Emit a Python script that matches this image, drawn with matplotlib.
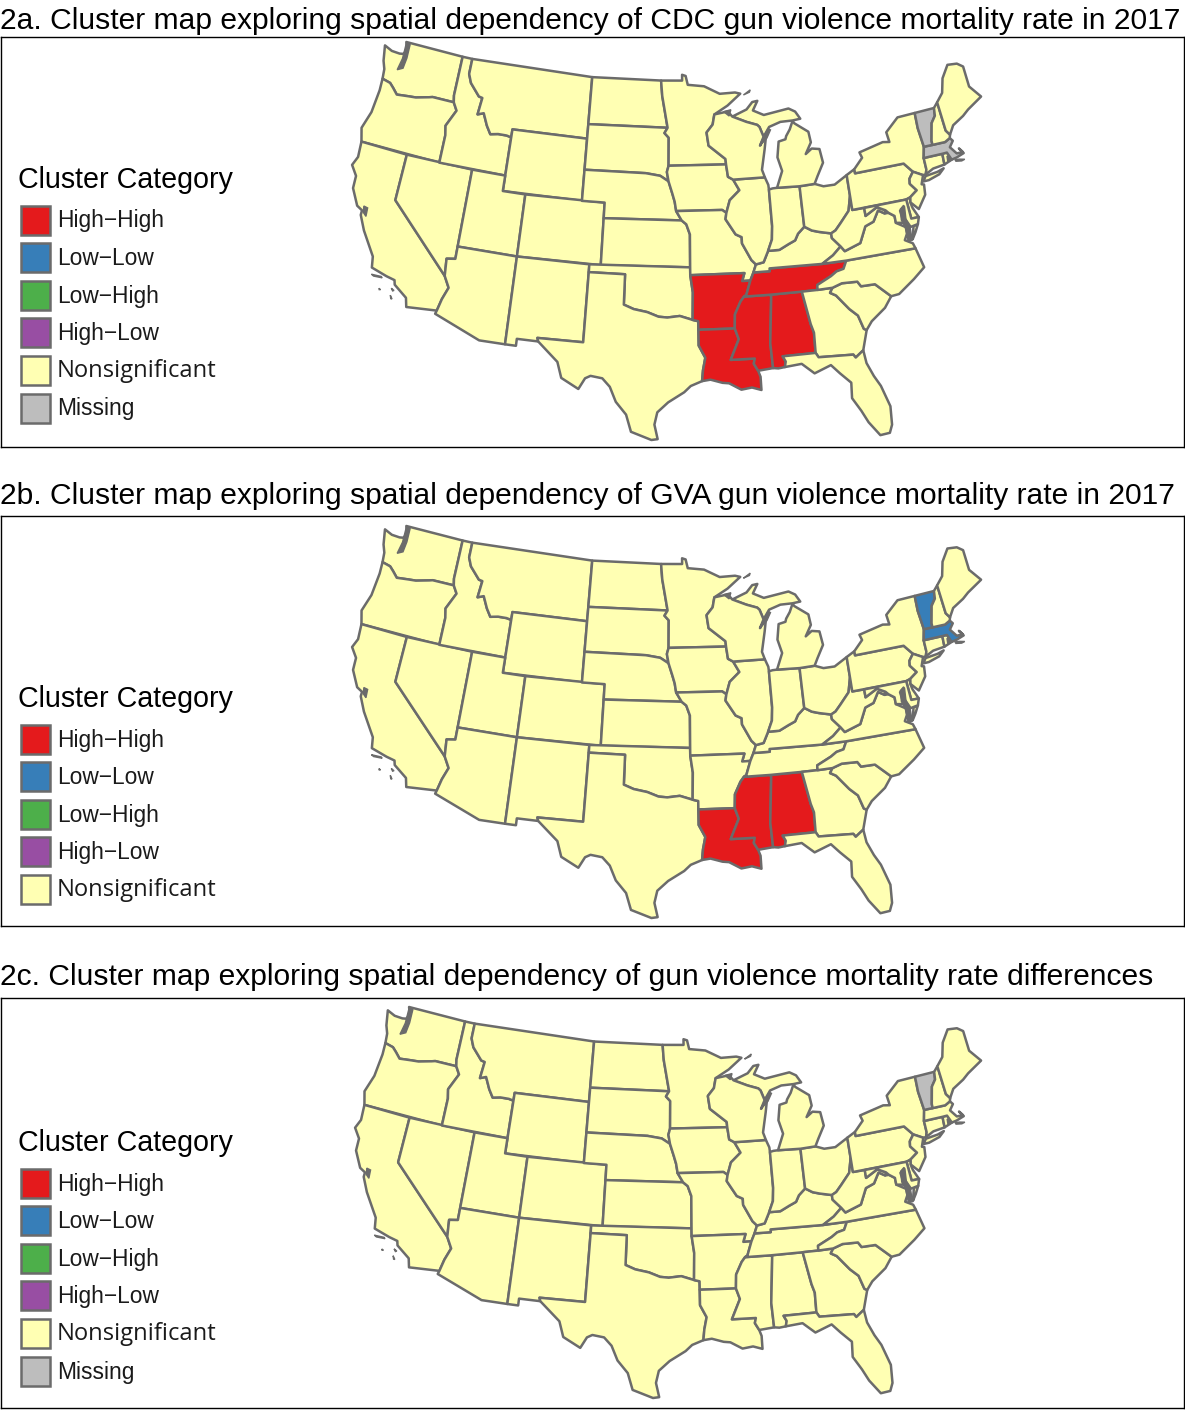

# Cluster maps of gun violence mortality, three panels of the lower 48 states
import numpy as np
import matplotlib
matplotlib.use("Agg")
import matplotlib.pyplot as plt
from matplotlib.patches import Polygon, Rectangle

W, H = 1185, 1412

# state outlines, lon/lat
WA = [(-124.7,48.38),(-123.9,48.17),(-123.1,48.15),(-122.75,48.2),(-122.5,48.5),(-122.78,49.0),(-117.03,49.0),(-117.04,46.42),(-116.92,45.99),(-118.98,46.0),(-119.3,45.93),(-120.5,45.7),(-121.2,45.65),(-122.3,45.55),(-122.8,45.9),(-123.2,46.15),(-124.0,46.27),(-124.1,46.9),(-124.4,47.4)]
OR = [(-124.0,46.27),(-123.2,46.15),(-122.8,45.9),(-122.3,45.55),(-121.2,45.65),(-120.5,45.7),(-119.3,45.93),(-118.98,46.0),(-116.92,45.99),(-116.5,45.5),(-117.2,44.4),(-117.03,43.8),(-117.03,42.0),(-124.2,42.0),(-124.55,42.85),(-124.1,44.0),(-123.95,45.5)]
CA = [(-124.2,42.0),(-120.0,42.0),(-120.0,39.0),(-114.63,35.0),(-114.14,34.3),(-114.5,33.5),(-114.72,32.72),(-117.12,32.53),(-117.3,33.1),(-118.4,33.75),(-118.5,34.03),(-119.2,34.15),(-120.5,34.45),(-120.65,35.15),(-121.9,36.6),(-122.5,37.5),(-122.5,37.8),(-123.0,38.0),(-123.75,39.0),(-123.8,39.8),(-124.4,40.4),(-124.1,41.0)]
NV = [(-120.0,42.0),(-114.04,42.0),(-114.04,36.2),(-114.75,36.1),(-114.63,35.0),(-120.0,39.0)]
ID = [(-117.03,49.0),(-116.05,49.0),(-116.05,48.0),(-115.7,47.45),(-114.7,46.7),(-114.35,46.65),(-114.5,45.55),(-113.95,45.7),(-113.45,44.95),(-113.0,44.45),(-112.3,44.55),(-111.5,44.55),(-111.05,44.48),(-111.05,42.0),(-117.03,42.0),(-117.03,43.8),(-117.2,44.4),(-116.5,45.5),(-116.92,45.99),(-117.04,46.42)]
MT = [(-116.05,49.0),(-104.05,49.0),(-104.05,45.0),(-111.05,45.0),(-111.05,44.48),(-111.5,44.55),(-112.3,44.55),(-113.0,44.45),(-113.45,44.95),(-113.95,45.7),(-114.5,45.55),(-114.35,46.65),(-114.7,46.7),(-115.7,47.45),(-116.05,48.0)]
WY = [(-111.05,45.0),(-104.05,45.0),(-104.05,41.0),(-111.05,41.0)]
UT = [(-114.04,42.0),(-111.05,42.0),(-111.05,41.0),(-109.05,41.0),(-109.05,37.0),(-114.04,37.0)]
CO = [(-109.05,41.0),(-102.05,41.0),(-102.05,37.0),(-109.05,37.0)]
AZ = [(-114.04,37.0),(-109.05,37.0),(-109.05,31.33),(-111.07,31.33),(-114.8,32.5),(-114.72,32.72),(-114.5,33.5),(-114.14,34.3),(-114.63,35.0),(-114.75,36.1),(-114.04,36.2)]
NM = [(-109.05,37.0),(-103.0,37.0),(-103.04,32.0),(-106.62,32.0),(-106.53,31.78),(-108.2,31.78),(-108.2,31.33),(-109.05,31.33)]
ND = [(-104.05,49.0),(-97.23,49.0),(-97.1,48.0),(-96.56,45.94),(-104.05,45.94)]
SD = [(-104.05,45.94),(-96.56,45.94),(-96.85,45.6),(-96.45,45.3),(-96.45,43.5),(-96.6,43.1),(-96.45,42.5),(-97.2,42.85),(-98.5,43.0),(-104.05,43.0)]
NE = [(-104.05,43.0),(-98.5,43.0),(-97.2,42.85),(-96.45,42.5),(-96.1,41.7),(-95.9,41.2),(-95.77,40.6),(-95.3,40.0),(-102.05,40.0),(-102.05,41.0),(-104.05,41.0)]
KS = [(-102.05,40.0),(-95.3,40.0),(-94.9,39.75),(-94.6,39.1),(-94.62,37.0),(-102.05,37.0)]
OK = [(-103.0,37.0),(-94.62,37.0),(-94.62,36.5),(-94.43,35.4),(-94.48,33.64),(-95.5,33.9),(-96.5,33.8),(-97.2,33.85),(-98.1,34.13),(-99.2,34.3),(-100.0,34.56),(-100.0,36.5),(-103.0,36.5)]
TX = [(-103.0,36.5),(-100.0,36.5),(-100.0,34.56),(-99.2,34.3),(-98.1,34.13),(-97.2,33.85),(-96.5,33.8),(-95.5,33.9),(-94.48,33.64),(-94.04,33.55),(-94.04,33.0),(-94.04,31.99),(-93.55,31.2),(-93.75,30.4),(-93.84,29.7),(-94.7,29.4),(-95.2,29.0),(-96.4,28.35),(-97.2,27.7),(-97.4,26.9),(-97.15,25.96),(-97.6,25.9),(-99.1,26.4),(-99.5,27.5),(-100.3,28.3),(-100.8,29.25),(-101.4,29.77),(-102.3,29.88),(-102.7,29.7),(-103.15,28.98),(-104.5,29.6),(-104.9,30.6),(-106.53,31.78),(-106.62,32.0),(-103.04,32.0)]
MN = [(-97.23,49.0),(-95.15,49.0),(-95.15,49.38),(-94.8,49.3),(-94.6,48.72),(-93.0,48.6),(-91.5,48.07),(-90.0,48.1),(-89.5,48.0),(-90.8,47.28),(-92.1,46.75),(-92.3,46.1),(-92.9,45.6),(-92.75,44.75),(-91.25,43.85),(-91.22,43.5),(-96.45,43.5),(-96.45,45.3),(-96.85,45.6),(-96.56,45.94),(-97.1,48.0)]
IA = [(-96.45,43.5),(-91.22,43.5),(-91.1,42.7),(-90.65,42.5),(-90.15,41.8),(-91.05,41.2),(-91.4,40.4),(-91.75,40.6),(-95.77,40.6),(-95.9,41.2),(-96.1,41.7),(-96.45,42.5),(-96.6,43.1)]
MO = [(-95.77,40.6),(-91.75,40.6),(-91.4,40.4),(-91.5,40.0),(-90.7,39.0),(-90.2,38.8),(-90.2,38.4),(-89.5,37.3),(-89.15,37.0),(-89.4,36.5),(-89.7,36.0),(-90.37,36.0),(-90.15,36.5),(-94.62,36.5),(-94.62,37.0),(-94.6,39.1),(-94.9,39.75),(-95.3,40.0)]
AR = [(-94.62,36.5),(-90.15,36.5),(-90.37,36.0),(-89.7,36.0),(-90.1,35.1),(-90.3,35.0),(-90.6,34.7),(-91.1,33.9),(-91.17,33.0),(-94.04,33.0),(-94.04,33.55),(-94.48,33.64),(-94.43,35.4)]
LA = [(-94.04,33.0),(-91.17,33.0),(-90.9,32.3),(-91.6,31.0),(-89.75,31.0),(-89.85,30.67),(-89.55,30.2),(-89.4,29.8),(-89.4,28.95),(-90.1,29.15),(-90.9,29.05),(-91.8,29.5),(-92.3,29.55),(-93.2,29.78),(-93.84,29.7),(-93.75,30.4),(-93.55,31.2),(-94.04,31.99)]
MS = [(-90.3,35.0),(-88.2,35.0),(-88.1,34.9),(-88.47,31.9),(-88.4,30.3),(-89.55,30.2),(-89.85,30.67),(-89.75,31.0),(-91.6,31.0),(-90.9,32.3),(-91.17,33.0),(-91.1,33.9),(-90.6,34.7)]
AL = [(-88.2,35.0),(-85.6,35.0),(-85.18,32.87),(-85.0,32.3),(-85.05,31.0),(-87.6,31.0),(-87.4,30.65),(-87.5,30.3),(-88.0,30.25),(-88.4,30.3),(-88.47,31.9),(-88.1,34.9)]
TN = [(-90.3,35.0),(-90.1,35.1),(-89.7,36.0),(-89.4,36.5),(-88.05,36.5),(-88.05,36.68),(-83.68,36.6),(-81.68,36.59),(-82.0,36.1),(-82.6,36.0),(-83.1,35.75),(-84.3,35.3),(-84.32,34.99),(-85.6,35.0),(-88.2,35.0)]
KY = [(-89.4,36.5),(-89.15,37.0),(-88.5,37.1),(-88.05,37.8),(-87.1,37.8),(-86.3,38.1),(-85.7,38.3),(-85.4,38.7),(-84.8,39.1),(-84.2,38.8),(-83.6,38.65),(-82.6,38.45),(-82.6,38.15),(-81.97,37.54),(-82.7,37.05),(-83.68,36.6),(-88.05,36.68),(-88.05,36.5)]
IL = [(-90.65,42.5),(-87.8,42.5),(-87.55,42.0),(-87.53,41.7),(-87.53,39.35),(-87.65,38.5),(-88.05,37.8),(-88.5,37.1),(-89.15,37.0),(-89.5,37.3),(-90.2,38.4),(-90.2,38.8),(-90.7,39.0),(-91.5,40.0),(-91.4,40.4),(-91.05,41.2),(-90.15,41.8)]
IN = [(-87.53,41.7),(-87.2,41.75),(-86.8,41.76),(-84.8,41.7),(-84.8,39.1),(-85.4,38.7),(-85.7,38.3),(-86.3,38.1),(-87.1,37.8),(-88.05,37.8),(-87.65,38.5),(-87.53,39.35)]
OH = [(-84.8,41.7),(-83.45,41.73),(-82.7,41.5),(-81.7,41.5),(-80.52,41.98),(-80.52,40.64),(-80.85,39.7),(-81.7,39.0),(-82.2,38.6),(-82.6,38.45),(-83.6,38.65),(-84.2,38.8),(-84.8,39.1)]
MI_LOW = [(-86.8,41.76),(-84.8,41.7),(-83.45,41.73),(-83.1,42.2),(-82.45,43.0),(-82.6,43.9),(-83.3,44.0),(-83.9,43.7),(-83.3,44.4),(-83.4,45.1),(-84.6,45.75),(-84.75,45.92),(-85.1,45.4),(-85.5,45.0),(-85.6,44.8),(-86.25,44.7),(-86.5,43.7),(-86.2,42.8)]
MI_UP = [(-90.4,46.55),(-89.0,46.95),(-88.4,47.4),(-87.9,47.45),(-88.4,46.85),(-87.4,46.5),(-85.0,46.75),(-84.4,46.5),(-84.0,46.0),(-84.75,45.95),(-85.9,45.95),(-87.0,45.7),(-87.6,45.1),(-87.9,45.75),(-88.1,45.9),(-89.1,46.15)]
WI = [(-92.1,46.75),(-90.8,46.9),(-90.4,46.55),(-89.1,46.15),(-88.1,45.9),(-87.9,45.75),(-87.6,45.1),(-88.0,44.55),(-87.35,45.2),(-87.6,44.3),(-88.0,43.0),(-87.8,42.5),(-90.65,42.5),(-91.1,42.7),(-91.22,43.5),(-91.25,43.85),(-92.75,44.75),(-92.9,45.6),(-92.3,46.1)]
GA = [(-85.6,35.0),(-84.32,34.99),(-83.1,35.0),(-83.35,34.7),(-82.9,34.48),(-82.0,33.5),(-81.4,33.0),(-81.1,32.1),(-80.9,32.0),(-81.4,30.75),(-82.05,30.36),(-82.2,30.57),(-84.86,30.7),(-85.05,31.0),(-85.0,32.3),(-85.18,32.87)]
FL = [(-87.6,31.0),(-85.05,31.0),(-84.86,30.7),(-82.2,30.57),(-82.05,30.36),(-81.4,30.75),(-81.3,29.9),(-80.9,29.0),(-80.5,28.3),(-80.05,26.9),(-80.15,25.7),(-80.4,25.2),(-81.1,25.15),(-81.8,26.1),(-82.2,26.9),(-82.75,27.8),(-82.65,28.8),(-83.4,29.5),(-84.0,30.1),(-85.3,29.7),(-86.2,30.4),(-87.5,30.3),(-87.4,30.65)]
SC = [(-83.1,35.0),(-82.3,35.2),(-81.04,35.15),(-80.8,34.82),(-79.67,34.8),(-78.55,33.86),(-79.2,33.2),(-80.4,32.5),(-80.9,32.0),(-81.1,32.1),(-81.4,33.0),(-82.0,33.5),(-82.9,34.48),(-83.35,34.7)]
NC = [(-84.32,34.99),(-84.3,35.3),(-83.1,35.75),(-82.6,36.0),(-82.0,36.1),(-81.68,36.59),(-75.87,36.55),(-75.5,35.25),(-76.5,34.65),(-77.9,33.9),(-78.55,33.86),(-79.67,34.8),(-80.8,34.82),(-81.04,35.15),(-82.3,35.2),(-83.1,35.0)]
VA = [(-83.68,36.6),(-81.68,36.59),(-75.87,36.55),(-76.0,36.9),(-76.6,37.2),(-76.3,37.6),(-76.3,38.0),(-77.05,38.4),(-77.05,38.85),(-77.5,39.12),(-77.83,39.13),(-78.35,39.4),(-78.9,38.75),(-79.65,38.55),(-80.3,37.55),(-81.68,37.2),(-81.97,37.54),(-82.7,37.05)]
VA_SHORE = [(-75.25,38.03),(-75.65,37.95),(-75.95,37.15),(-75.6,37.55)]
WV = [(-82.6,38.45),(-82.2,38.6),(-81.7,39.0),(-80.85,39.7),(-80.52,40.64),(-80.52,39.72),(-79.48,39.72),(-79.48,39.2),(-78.4,39.62),(-77.72,39.32),(-77.83,39.13),(-78.35,39.4),(-78.9,38.75),(-79.65,38.55),(-80.3,37.55),(-81.68,37.2),(-81.97,37.54),(-82.6,38.15)]
PA = [(-80.52,41.98),(-79.76,42.27),(-79.76,42.0),(-75.35,42.0),(-74.7,41.36),(-75.13,40.97),(-75.2,40.65),(-74.73,40.15),(-75.42,39.8),(-75.79,39.72),(-80.52,39.72),(-80.52,40.64)]
NY = [(-79.76,42.27),(-78.9,42.9),(-79.05,43.27),(-76.8,43.63),(-76.2,43.55),(-76.3,44.2),(-75.0,44.98),(-73.35,45.0),(-73.4,44.0),(-73.25,42.75),(-73.5,42.05),(-73.5,41.3),(-73.65,41.0),(-73.9,41.0),(-74.7,41.36),(-75.35,42.0),(-79.76,42.0)]
LONG_ISLAND = [(-74.0,40.6),(-73.7,40.9),(-72.6,40.98),(-72.0,41.1),(-72.5,40.8),(-73.5,40.6)]
NJ = [(-74.7,41.36),(-73.9,41.0),(-74.2,40.45),(-74.0,40.4),(-74.1,39.75),(-74.9,38.95),(-75.5,39.5),(-75.42,39.8),(-74.73,40.15),(-75.2,40.65),(-75.13,40.97)]
DE = [(-75.42,39.8),(-75.79,39.72),(-75.7,38.46),(-75.05,38.45),(-75.4,39.1),(-75.5,39.5)]
MD = [(-79.48,39.72),(-75.79,39.72),(-75.7,38.46),(-75.05,38.45),(-75.25,38.03),(-75.9,37.95),(-76.2,38.5),(-76.1,39.3),(-76.5,39.1),(-76.4,38.3),(-77.05,38.4),(-77.05,38.85),(-77.5,39.12),(-77.72,39.32),(-78.4,39.62),(-79.48,39.2)]
CT = [(-73.5,42.05),(-71.8,42.02),(-71.85,41.32),(-72.9,41.25),(-73.65,41.0),(-73.5,41.3)]
RI = [(-71.8,42.02),(-71.38,42.02),(-71.12,41.5),(-71.85,41.32)]
MA = [(-73.5,42.05),(-73.25,42.75),(-72.46,42.73),(-71.3,42.7),(-70.8,42.87),(-70.6,42.65),(-71.0,42.3),(-70.55,41.8),(-70.0,41.78),(-70.25,42.07),(-69.95,41.7),(-70.65,41.55),(-71.12,41.5),(-71.38,42.02),(-71.8,42.02)]
VT = [(-73.35,45.0),(-71.5,45.0),(-71.6,44.5),(-72.05,44.1),(-72.45,43.0),(-72.46,42.73),(-73.25,42.75),(-73.4,44.0)]
NH = [(-71.5,45.0),(-71.08,45.3),(-70.98,43.4),(-70.7,43.07),(-70.8,42.87),(-71.3,42.7),(-72.46,42.73),(-72.45,43.0),(-72.05,44.1),(-71.6,44.5)]
ME = [(-71.08,45.3),(-70.4,45.8),(-70.0,46.7),(-69.2,47.45),(-68.3,47.35),(-67.8,47.05),(-67.8,45.7),(-67.0,44.85),(-68.5,44.3),(-69.1,44.0),(-70.2,43.6),(-70.7,43.07),(-70.98,43.4)]

STATES = {
    "WA": [WA], "OR": [OR], "CA": [CA], "NV": [NV], "ID": [ID], "MT": [MT], "WY": [WY], "UT": [UT],
    "CO": [CO], "AZ": [AZ], "NM": [NM], "ND": [ND], "SD": [SD], "NE": [NE], "KS": [KS], "OK": [OK],
    "TX": [TX], "MN": [MN], "IA": [IA], "MO": [MO], "AR": [AR], "LA": [LA], "MS": [MS], "AL": [AL],
    "TN": [TN], "KY": [KY], "IL": [IL], "IN": [IN], "OH": [OH], "MI": [MI_LOW, MI_UP], "WI": [WI],
    "GA": [GA], "FL": [FL], "SC": [SC], "NC": [NC], "VA": [VA, VA_SHORE], "WV": [WV], "PA": [PA],
    "NY": [NY, LONG_ISLAND], "NJ": [NJ], "DE": [DE], "MD": [MD], "CT": [CT], "RI": [RI], "MA": [MA],
    "VT": [VT], "NH": [NH], "ME": [ME],
}
# small islands and inlets, these show as solid gray blobs
CHANNEL_ISLANDS = [[(-120.4,34.03),(-119.6,34.05),(-119.5,33.98),(-120.2,33.95)],
                   [(-118.6,33.48),(-118.35,33.38),(-118.45,33.33)],
                   [(-118.55,33.03),(-118.35,32.82),(-118.45,32.82)],
                   [(-119.55,33.28),(-119.4,33.22),(-119.5,33.2)]]
PUGET = [(-122.75,48.98),(-122.35,48.9),(-122.3,48.0),(-122.4,47.3),(-122.9,47.1),(-122.7,47.9)]
SF_BAY = [(-122.45,38.1),(-122.1,38.05),(-122.05,37.5),(-122.35,37.7)]
CHESAPEAKE = [(-76.45,39.2),(-76.1,39.4),(-76.2,38.6),(-75.95,37.9),(-76.0,37.1),(-76.35,37.1),(-76.35,38.0),(-76.55,38.5)]
GREEN_BAY = [(-88.0,44.55),(-87.6,45.1),(-87.1,45.6),(-86.9,45.5),(-87.3,45.0)]
APOSTLE = [(-91.2,46.9),(-90.5,47.0),(-90.7,46.6)]
ISLE_ROYALE = [(-89.2,47.9),(-88.5,48.2),(-88.6,48.05)]
NARRAGANSETT = [(-71.45,41.8),(-71.2,41.7),(-71.3,41.45),(-71.5,41.45)]
CAPE_ISLANDS = [(-70.85,41.45),(-70.45,41.4),(-70.0,41.3),(-70.3,41.25),(-70.8,41.33)]
BLOBS = CHANNEL_ISLANDS + [PUGET, SF_BAY, CHESAPEAKE, GREEN_BAY, APOSTLE, ISLE_ROYALE, NARRAGANSETT, CAPE_ISLANDS]

CATEGORIES = ["High\u2212High", "Low\u2212Low", "Low\u2212High", "High\u2212Low", "Nonsignificant", "Missing"]
CAT_COLORS = ["#e41a1c", "#377eb8", "#4daf4a", "#984ea3", "#ffffb3", "#bdbdbd"]

TITLES = ["2a. Cluster map exploring spatial dependency of CDC gun violence mortality rate in 2017",
          "2b. Cluster map exploring spatial dependency of GVA gun violence mortality rate in 2017",
          "2c. Cluster map exploring spatial dependency of gun violence mortality rate differences"]
PANEL_A = {"AR": 0, "TN": 0, "MS": 0, "AL": 0, "LA": 0, "VT": 5, "MA": 5}
PANEL_B = {"MS": 0, "AL": 0, "LA": 0, "VT": 1, "MA": 1}
PANEL_C = {"VT": 5}
PANEL_CATS = [PANEL_A, PANEL_B, PANEL_C]
LEGEND_ROWS = [6, 5, 6]

# pixel layout per panel: frame top/bottom, title y, map box, legend title y
FRAMES = [(37, 447), (516, 926), (998, 1408)]
TITLE_Y = [21, 496, 977]
MAP_BOX = [(352, 981, 42, 440), (352, 981, 526, 918), (355, 981, 1007, 1398)]
LEGEND_Y = [180, 699, 1143]

GRAY = "#6b6b6b"


def albers(ring, lon0=-96.0, lat0=37.5, p1=29.5, p2=45.5):
    lon, lat = np.radians(np.array(ring)).T
    lon0, lat0, p1, p2 = np.radians([lon0, lat0, p1, p2])
    n = (np.sin(p1) + np.sin(p2)) / 2
    c = np.cos(p1) ** 2 + 2 * n * np.sin(p1)
    rho = np.sqrt(c - 2 * n * np.sin(lat)) / n
    rho0 = np.sqrt(c - 2 * n * np.sin(lat0)) / n
    th = n * (lon - lon0)
    return np.column_stack([rho * np.sin(th), rho0 - rho * np.cos(th)])


projected = {k: [albers(r) for r in v] for k, v in STATES.items()}
blobs = [albers(r) for r in BLOBS]
allpts = np.vstack([r for v in projected.values() for r in v])
xmin, ymin = allpts.min(axis=0)
xmax, ymax = allpts.max(axis=0)

fig = plt.figure(figsize=(W / 100, H / 100), dpi=100)


def fx(x):
    return x / W


def fy(y):
    return 1 - y / H


for i in range(3):
    top, bot = FRAMES[i]
    ax = fig.add_axes([0.0005, fy(bot), 1183.5 / W, (bot - top) / H])
    for s in ax.spines.values():
        s.set_linewidth(1.0)
        s.set_color("black")
    ax.set_xticks([])
    ax.set_yticks([])
    # limits so that the map's box lands on its pixels
    px0, px1, py0, py1 = MAP_BOX[i]
    sx = (xmax - xmin) / (px1 - px0)
    sy = (ymax - ymin) / (py1 - py0)
    ax.set_xlim(xmin - (px0 - 0.5) * sx, xmin + (1184 - px0) * sx)
    ax.set_ylim(ymin - (bot - py1) * sy, ymax + (py0 - top) * sy)
    cats = PANEL_CATS[i]
    for name, rings in projected.items():
        col = CAT_COLORS[cats.get(name, 4)]
        for r in rings:
            ax.add_patch(Polygon(r, closed=True, facecolor=col, edgecolor=GRAY, linewidth=1.8, joinstyle="round"))
    for r in blobs:
        ax.add_patch(Polygon(r, closed=True, facecolor=GRAY, edgecolor=GRAY, linewidth=1.0))

    fig.text(0.0, fy(TITLE_Y[i]), TITLES[i], fontsize=21.65, family="Liberation Sans", va="center", ha="left")
    ly = LEGEND_Y[i]
    fig.text(fx(18), fy(ly), "Cluster Category", fontsize=20.65, family="Liberation Sans", va="center", ha="left")
    for j in range(LEGEND_ROWS[i]):
        yc = ly + 40 + j * 37.6
        fig.add_artist(Rectangle((fx(20.5), fy(yc + 14.5)), 29 / W, 29 / H, transform=fig.transFigure,
                                 facecolor=CAT_COLORS[j], edgecolor=GRAY, linewidth=1.8))
        fam = "Open Sans" if CATEGORIES[j] == "Nonsignificant" else "Liberation Sans"
        fig.text(fx(57), fy(yc + 1), CATEGORIES[j], fontsize=16.4 if fam != "Open Sans" else 17.1, family=fam,
                 va="center", ha="left", color="#1a1a1a")

fig.savefig("out.png", dpi=100)
